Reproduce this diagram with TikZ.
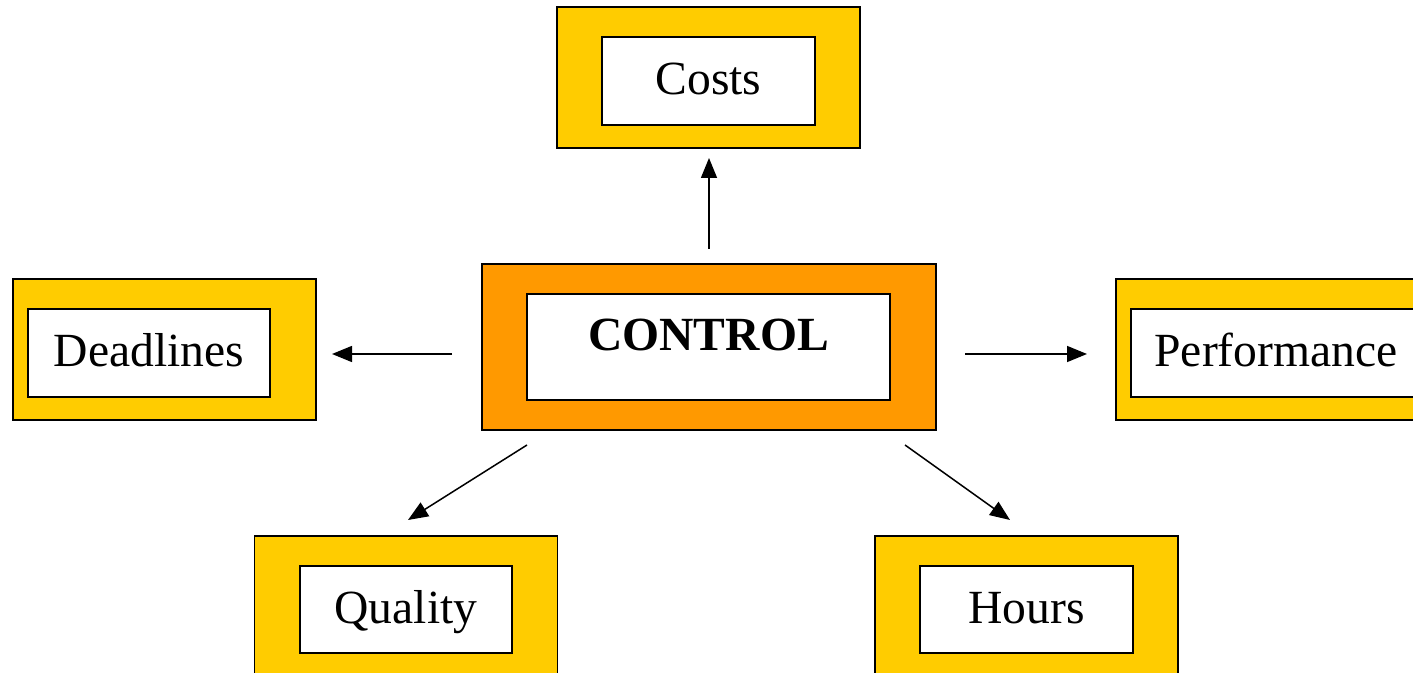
\documentclass[tikz,border=0pt]{standalone}
\usepackage{fontspec}
\setmainfont{Liberation Serif}
\usetikzlibrary{arrows.meta}

\definecolor{boxyellow}{HTML}{FFCC00}
\definecolor{boxorange}{HTML}{FF9900}

\tikzset{
  outerbox/.style={draw=black, line width=0.8pt, fill=boxyellow, minimum width=151.5pt, minimum height=70.5pt, inner sep=0pt},
  innerbox/.style={draw=black, line width=0.8pt, fill=white, minimum height=44pt, inner sep=0pt, text height=19pt, text depth=5pt, font=\fontsize{23.8}{28}\selectfont},
  arr/.style={black, line width=0.75pt, -{Triangle[length=10pt,width=8pt]}}
}

\begin{document}
\begin{tikzpicture}[x=0.5pt,y=-0.5pt]
\useasboundingbox (0,0) rectangle (1413,673);
\clip (0,0) rectangle (1413,673);

% frames
\node[outerbox] (costsF) at (708.5,77.5) {};
\node[outerbox] (deadF) at (164.5,349.5) {};
\node[outerbox, minimum width=160pt] (perfF) at (1276,349.5) {};
\node[outerbox] (qualF) at (406,606.5) {};
\node[outerbox] (hoursF) at (1026.5,606.5) {};
\node[outerbox, fill=boxorange, minimum width=227pt, minimum height=83pt] (ctlF) at (709,347) {};

% labels
\node[innerbox, minimum width=106.5pt] (costs) at (708.5,81) {Costs};
\node[innerbox, minimum width=121pt] (dead) at (149,353) {Deadlines};
\node[innerbox, minimum width=145pt] (perf) at (1276,353) {Performance};
\node[innerbox, minimum width=106pt, minimum height=43.5pt] (qual) at (406,609.5) {Quality};
\node[innerbox, minimum width=106.5pt, minimum height=43.5pt] (hours) at (1026.5,609.5) {Hours};
\node[innerbox, minimum width=181.5pt, minimum height=53pt, text depth=15pt, font=\fontsize{23.8}{28}\selectfont\bfseries] (ctl) at (708.5,347) {CONTROL};

% arrows
\coordinate (upS) at (709,249);
\coordinate (upE) at (709,158);
\coordinate (leftS) at (452,354);
\coordinate (leftE) at (332,354);
\coordinate (rightS) at (965,354);
\coordinate (rightE) at (1087,354);
\coordinate (dlS) at (527,445);
\coordinate (dlE) at (408,520);
\coordinate (drS) at (905,445);
\coordinate (drE) at (1010,520);

\draw[arr] (upS)--(upE);
\draw[arr] (leftS)--(leftE);
\draw[arr] (rightS)--(rightE);
\draw[arr] (dlS)--(dlE);
\draw[arr] (drS)--(drE);

\end{tikzpicture}
\end{document}
